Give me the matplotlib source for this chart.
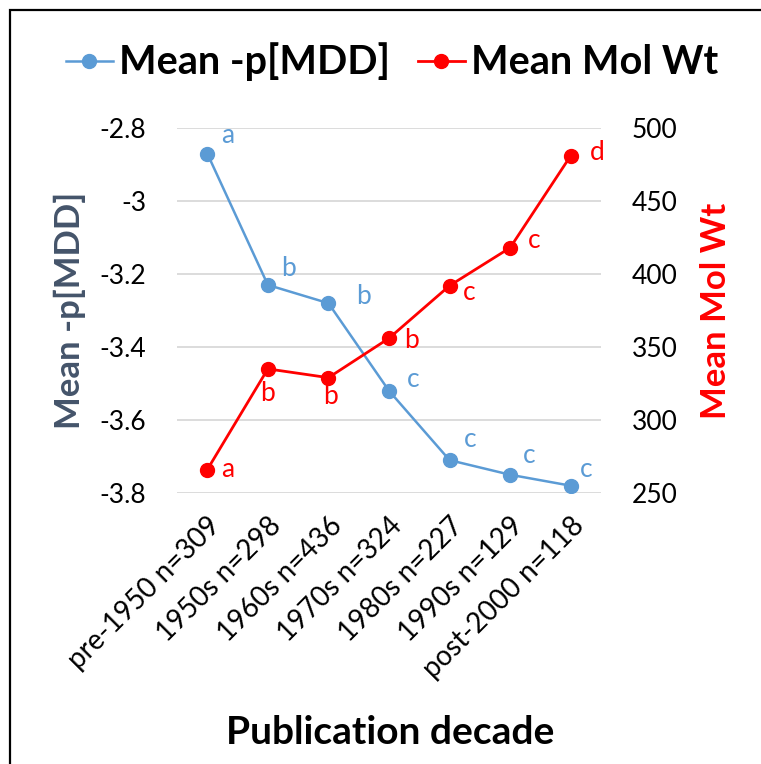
import matplotlib
matplotlib.use("Agg")
import matplotlib.pyplot as plt
from matplotlib.patches import Rectangle

plt.rcParams['font.family'] = ['Lato', 'DejaVu Sans']

decades = ["pre-1950 n=309", "1950s n=298", "1960s n=436", "1970s n=324",
           "1980s n=227", "1990s n=129", "post-2000 n=118"]
mean_pmdd = [-2.87, -3.23, -3.28, -3.52, -3.71, -3.75, -3.78]
mean_molwt = [266, 335, 329, 356, 392, 418, 481]
pmdd_groups = ["a", "b", "b", "c", "c", "c", "c"]
molwt_groups = ["a", "b", "b", "b", "c", "c", "d"]

blue = "#5B9BD5"
red = "#FF0000"

# where each significance letter sits relative to its point (pixels)
pmdd_offsets = [(20, 18), (21, 16), (35, 7), (24, 11), (21, 21), (19, 19), (15, 16)]
molwt_offsets = [(20, 0), (0, -25), (2, -19), (22, -2), (20, -7), (24, 7), (27, 3)]

fig = plt.figure(figsize=(7.61, 7.64), dpi=100)
W, H = 761, 764
ax = fig.add_axes([177 / W, 1 - 493 / H, 424 / W, 365 / H])
ax2 = ax.twinx()

x = list(range(len(decades)))

ax.plot(x, mean_pmdd, color=blue, lw=1.8, marker="o", ms=10, label="Mean -p[MDD]", zorder=3)
ax2.plot(x, mean_molwt, color=red, lw=2.0, marker="o", ms=10, label="Mean Mol Wt", zorder=3)

for i in x:
    ax.annotate(pmdd_groups[i], (i, mean_pmdd[i]), xytext=pmdd_offsets[i],
                textcoords="offset pixels", ha="center", va="center",
                color=blue, fontsize=19)
    ax2.annotate(molwt_groups[i], (i, mean_molwt[i]), xytext=molwt_offsets[i],
                 textcoords="offset pixels", ha="center", va="center",
                 color=red, fontsize=19)

ax.set_xlim(-0.5, len(decades) - 0.5)
ax.set_ylim(-3.8, -2.8)
ax.set_yticks([-3.8, -3.6, -3.4, -3.2, -3.0, -2.8])
ax.set_yticklabels(["-3.8", "-3.6", "-3.4", "-3.2", "-3", "-2.8"])
ax2.set_ylim(250, 500)
ax2.set_yticks([250, 300, 350, 400, 450, 500])

ax.yaxis.grid(True, color="#D9D9D9", lw=1.3)
ax.set_axisbelow(True)
for a in (ax, ax2):
    for s in a.spines.values():
        s.set_visible(False)

ax.tick_params(axis="y", length=0, pad=22, labelsize=19, labelcolor="#000000")
ax2.tick_params(axis="y", length=0, pad=22, labelsize=19, labelcolor="#000000")
ax.tick_params(axis="x", length=0, pad=14)

ax.set_xticks(x)
ax.set_xticklabels(decades, rotation=45, ha="right", va="top",
                   rotation_mode="anchor", fontsize=20)

ax.set_ylabel("Mean -p[MDD]", fontsize=25, fontweight="bold", color="#44546A", labelpad=10)
ax2.set_ylabel("Mean Mol Wt", fontsize=25, fontweight="bold", color=red, labelpad=16)
fig.text(390 / W, 1 - 733 / H, "Publication decade", fontsize=28, fontweight="bold",
         ha="center", va="center")

h1, l1 = ax.get_legend_handles_labels()
h2, l2 = ax2.get_legend_handles_labels()
leg = fig.legend(h1 + h2, l1 + l2, loc="center", bbox_to_anchor=(392 / W, 1 - 62 / H),
                 ncol=2, frameon=False, handlelength=1.2, handletextpad=0.15,
                 columnspacing=0.7, prop={"size": 28.5, "weight": "bold"})

# outer frame, open on the right and bottom
fig.patches.append(Rectangle((10 / W, -0.1), 1.2, 1 - 10 / H + 0.1,
                             transform=fig.transFigure, fill=False,
                             edgecolor="#000000", lw=1.6))

fig.savefig("out.png", dpi=100)
